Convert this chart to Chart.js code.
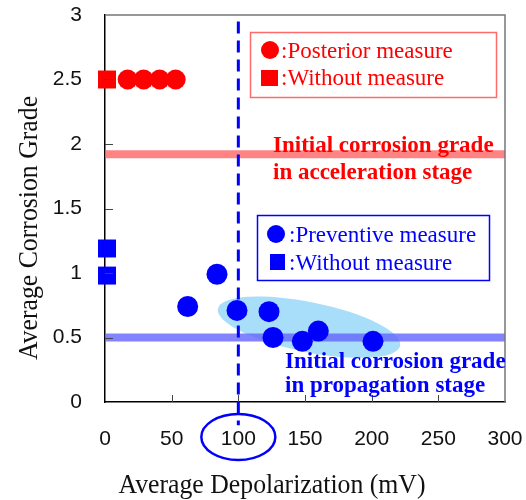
<!DOCTYPE html>
<html>
<head>
<meta charset="utf-8">
<script src="https://cdn.jsdelivr.net/npm/chart.js@4.4.0/dist/chart.umd.min.js"></script>
<style>
  html, body { margin: 0; padding: 0; background: #fff; }
</style>
</head>
<body>
<canvas id="chart" width="526" height="500"></canvas>
<script>
// axis ranges / ticks
const X_MIN = 0, X_MAX = 300, X_STEP = 50;
const Y_MIN = 0, Y_MAX = 3, Y_STEP = 0.5;

// posterior measure (red circles) and without measure (red square)
const posteriorX = [17, 29, 41, 53];
const posteriorY = [2.5, 2.5, 2.5, 2.5];
const redWithoutX = [1.5];
const redWithoutY = [2.5];

// preventive measure (blue circles) and without measure (blue squares)
const preventiveX = [62, 84, 99, 123, 126, 148, 160, 201];
const preventiveY = [0.74, 0.99, 0.71, 0.70, 0.50, 0.47, 0.55, 0.47];
const blueWithoutX = [1.5, 1.5];
const blueWithoutY = [1.19, 0.98];

// reference levels
const accelerationGrade = 1.92;
const propagationGrade = 0.5;
const depolarizationLimit = 100;

const X_TITLE = 'Average Depolarization (mV)';
const Y_TITLE = 'Average Corrosion Grade';

const SERIF = '"Liberation Serif", "DejaVu Serif", serif';
const SANS = '"Liberation Sans", Arial, sans-serif';

function toPoints(xs, ys) {
  return xs.map((x, i) => ({ x, y: ys[i] }));
}

// condensed serif text, like the narrow Mincho face of the original
function narrowText(ctx, text, x, y, rotation) {
  ctx.save();
  ctx.translate(x, y);
  ctx.rotate(rotation);
  ctx.scale(0.92, 1);
  ctx.fillText(text, 0, 0);
  ctx.restore();
}

const decorPlugin = {
  id: 'decor',
  beforeDatasetsDraw(chart) {
    const { ctx, scales: { x, y } } = chart;
    // light blue cluster ellipse
    ctx.save();
    ctx.fillStyle = '#a8defa';
    ctx.beginPath();
    ctx.ellipse(x.getPixelForValue(153), y.getPixelForValue(0.58), 93, 25, 0.2, 0, Math.PI * 2);
    ctx.fill();
    ctx.restore();
  },
  afterDraw(chart) {
    const { ctx, chartArea: a, scales: { x, y } } = chart;
    ctx.save();
    // top / right frame
    ctx.strokeStyle = '#777';
    ctx.lineWidth = 1.5;
    ctx.beginPath();
    ctx.moveTo(a.left, a.top);
    ctx.lineTo(a.right, a.top);
    ctx.lineTo(a.right, a.bottom);
    ctx.stroke();

    // inward ticks
    ctx.strokeStyle = '#444';
    ctx.lineWidth = 1;
    for (let v = X_MIN + X_STEP; v < X_MAX; v += X_STEP) {
      const px = Math.round(x.getPixelForValue(v)) + 0.5;
      ctx.beginPath();
      ctx.moveTo(px, a.bottom);
      ctx.lineTo(px, a.bottom - 7);
      ctx.stroke();
    }
    for (let v = Y_MIN + Y_STEP; v < Y_MAX; v += Y_STEP) {
      const py = Math.round(y.getPixelForValue(v)) + 0.5;
      ctx.beginPath();
      ctx.moveTo(a.left, py);
      ctx.lineTo(a.left + 8, py);
      ctx.stroke();
    }

    // axis titles
    ctx.fillStyle = '#111';
    ctx.font = '28px ' + SERIF;
    ctx.textAlign = 'center';
    ctx.textBaseline = 'alphabetic';
    narrowText(ctx, X_TITLE, 272, 493, 0);
    narrowText(ctx, Y_TITLE, 37, 228, -Math.PI / 2);
    ctx.textAlign = 'left';

    // ellipse round the 100 label
    ctx.strokeStyle = '#0000ff';
    ctx.lineWidth = 2.5;
    ctx.beginPath();
    ctx.ellipse(x.getPixelForValue(depolarizationLimit), a.bottom + 35, 37, 23, 0, 0, Math.PI * 2);
    ctx.stroke();

    // red legend box
    ctx.strokeStyle = '#ff6b6b';
    ctx.lineWidth = 1.5;
    ctx.strokeRect(250.5, 32.5, 246, 65);
    ctx.fillStyle = '#ff0000';
    ctx.beginPath();
    ctx.arc(270, 50, 9, 0, Math.PI * 2);
    ctx.fill();
    ctx.fillRect(261, 70, 17, 16);
    ctx.font = '23px ' + SERIF;
    ctx.fillText(':Posterior measure', 281, 58);
    ctx.fillText(':Without measure', 281, 85);

    // blue legend box
    ctx.strokeStyle = '#0000ff';
    ctx.strokeRect(257.5, 215.5, 232, 65);
    ctx.fillStyle = '#0000ff';
    ctx.beginPath();
    ctx.arc(276, 234, 9, 0, Math.PI * 2);
    ctx.fill();
    ctx.fillRect(270, 254, 15, 16);
    ctx.fillText(':Preventive measure', 289, 242);
    ctx.fillText(':Without measure', 289, 270);

    // stage labels
    ctx.font = 'bold 23px ' + SERIF;
    ctx.fillStyle = '#ff0000';
    ctx.fillText('Initial corrosion grade', 273, 152);
    ctx.fillText('in acceleration stage', 273, 179);
    ctx.fillStyle = '#0000ff';
    ctx.fillText('Initial corrosion grade', 285, 368);
    ctx.fillText('in propagation stage', 285, 392);
    ctx.restore();
  },
};

new Chart(document.getElementById('chart'), {
  type: 'scatter',
  data: {
    datasets: [
      {
        data: toPoints(posteriorX, posteriorY),
        backgroundColor: '#ff0000',
        borderWidth: 0,
        pointStyle: 'circle',
        pointRadius: 10,
        clip: false,
      },
      {
        data: toPoints(redWithoutX, redWithoutY),
        backgroundColor: '#ff0000',
        borderWidth: 0,
        pointStyle: 'rect',
        pointRadius: 12.7,
        clip: false,
      },
      {
        data: toPoints(preventiveX, preventiveY),
        backgroundColor: '#0000ff',
        borderWidth: 0,
        pointStyle: 'circle',
        pointRadius: 10.5,
        clip: false,
      },
      {
        data: toPoints(blueWithoutX, blueWithoutY),
        backgroundColor: '#0000ff',
        borderWidth: 0,
        pointStyle: 'rect',
        pointRadius: 12.7,
        clip: false,
      },
      {
        type: 'line',
        data: [{ x: depolarizationLimit, y: 2.95 }, { x: depolarizationLimit, y: -0.18 }],
        borderColor: '#0000ff',
        borderWidth: 3,
        borderDash: [12, 7],
        pointRadius: 0,
        clip: false,
      },
      {
        type: 'line',
        data: [{ x: X_MIN, y: accelerationGrade }, { x: X_MAX, y: accelerationGrade }],
        borderColor: 'rgba(255, 90, 90, 0.75)',
        borderWidth: 8,
        pointRadius: 0,
      },
      {
        type: 'line',
        data: [{ x: X_MIN, y: propagationGrade }, { x: X_MAX, y: propagationGrade }],
        borderColor: 'rgba(100, 100, 255, 0.8)',
        borderWidth: 8,
        pointRadius: 0,
      },
    ],
  },
  options: {
    responsive: false,
    animation: false,
    events: [],
    layout: { padding: { top: 15, right: 21, left: 0, bottom: 0 } },
    plugins: { legend: { display: false }, tooltip: { enabled: false } },
    scales: {
      x: {
        type: 'linear',
        min: X_MIN,
        max: X_MAX,
        grid: { display: false, drawTicks: false },
        border: { display: true, color: '#000', width: 1.5 },
        ticks: { stepSize: X_STEP, color: '#111', padding: 25, font: { family: SANS, size: 21 } },
        afterFit(scale) {
          scale.height = 98;
          scale.paddingLeft = 0;
          scale.paddingRight = 0;
        },
      },
      y: {
        min: Y_MIN,
        max: Y_MAX,
        grid: { display: false, drawTicks: false },
        border: { display: true, color: '#000', width: 1.5 },
        ticks: {
          stepSize: Y_STEP,
          color: '#111',
          padding: 23,
          font: { family: SANS, size: 21 },
          callback: (v) => String(v),
        },
        afterFit(scale) {
          scale.width = 105;
          scale.paddingTop = 0;
          scale.paddingBottom = 0;
        },
      },
    },
  },
  plugins: [decorPlugin],
});
</script>
</body>
</html>
